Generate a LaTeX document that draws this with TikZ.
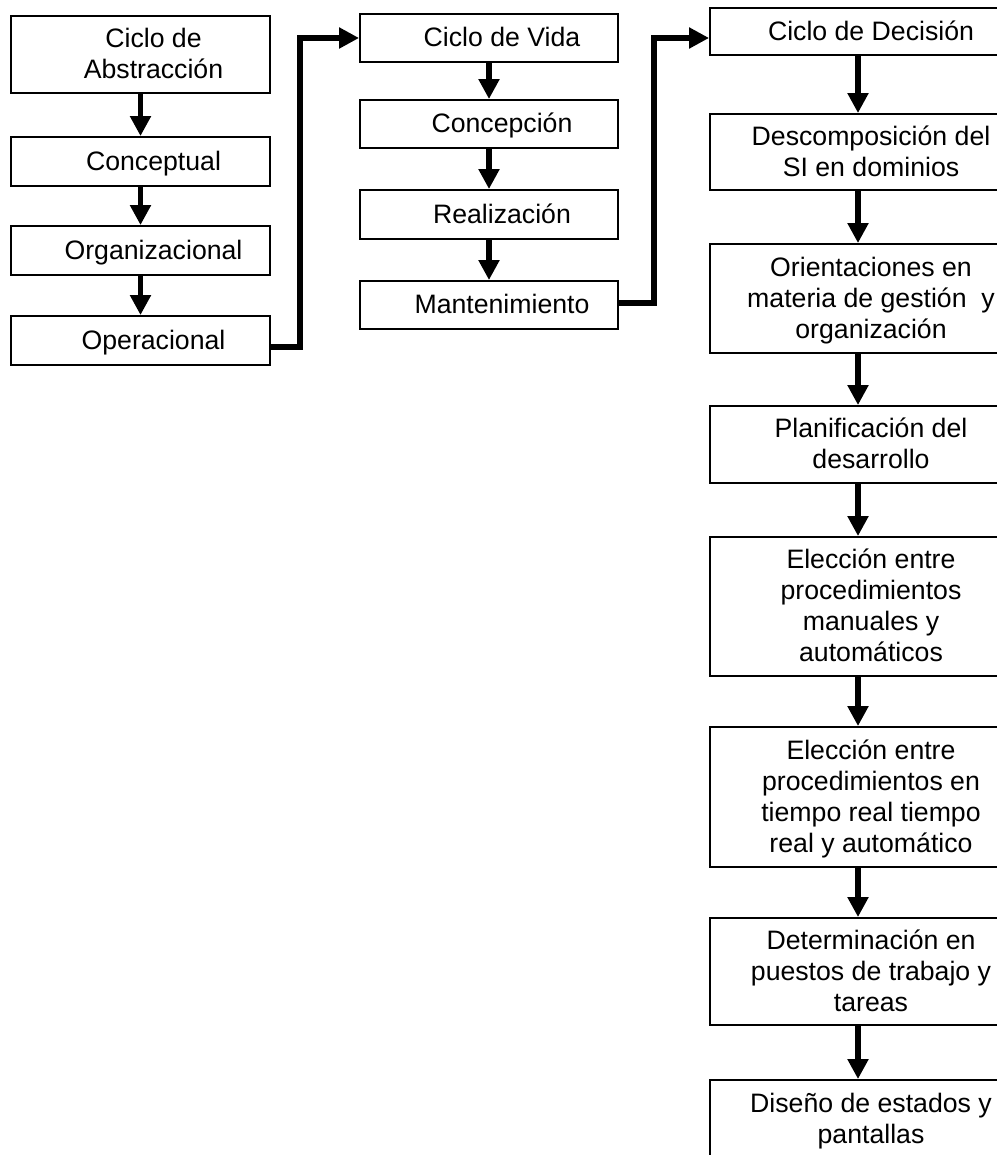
\documentclass[tikz,border=0pt]{standalone}
\usepackage{fontspec}
\setmainfont{Liberation Sans}
\usetikzlibrary{arrows.meta}
\newcommand{\boxtext}[1]{\hspace*{19.5pt}\raisebox{-2pt}[\height][\depth]{\begin{tabular}{@{}c@{}}#1\end{tabular}}}
\begin{document}
\begin{tikzpicture}[x=0.75pt,y=-0.75pt,
  box/.style={draw, line width=1.4pt, rectangle, inner sep=0pt, font=\fontsize{20}{23.25}\selectfont},
  lbox/.style={box, minimum width=194.25pt},
  mbox/.style={box, minimum width=193.5pt},
  rbox/.style={box, minimum width=222pt},
  arr/.style={line width=3.9pt, -{Triangle[width=15pt,length=15pt]}},
  conn/.style={arr, line join=miter}]
\useasboundingbox (0,0) rectangle (996,1155);

% left column
\node[lbox, minimum height=57.75pt] (abs) at (140.5,54.5) {\boxtext{Ciclo de\\Abstracción}};
\node[lbox, minimum height=36.75pt] (con) at (140.5,161.5) {\boxtext{Conceptual}};
\node[lbox, minimum height=36.75pt] (org) at (140.5,250.5) {\boxtext{Organizacional}};
\node[lbox, minimum height=36.75pt] (ope) at (140.5,340.5) {\boxtext{Operacional}};

% middle column
\node[mbox, minimum height=36pt] (cv) at (489,38) {\boxtext{Ciclo de Vida}};
\node[mbox, minimum height=36pt] (cp) at (489,124) {\boxtext{Concepción}};
\node[mbox, minimum height=36.75pt] (re) at (489,214.5) {\boxtext{Realización}};
\node[mbox, minimum height=36pt] (mt) at (489,305) {\boxtext{Mantenimiento}};

% right column
\node[rbox, minimum height=35.25pt] (cd) at (858,31.5) {\boxtext{Ciclo de Decisión}};
\node[rbox, minimum height=57pt] (ds) at (858,152) {\boxtext{Descomposición del\\SI en dominios}};
\node[rbox, minimum height=81.75pt] (ori) at (858,298.5) {\boxtext{Orientaciones en\\materia de gestión\ \ y\\organización}};
\node[rbox, minimum height=57.75pt] (pl) at (858,444.5) {\boxtext{Planificación del\\desarrollo}};
\node[rbox, minimum height=104.25pt] (ea) at (858,606.5) {\boxtext{Elección entre\\procedimientos\\manuales y\\automáticos}};
\node[rbox, minimum height=105pt] (eb) at (858,797) {\boxtext{Elección entre\\procedimientos en\\tiempo real tiempo\\real y automático}};
\node[rbox, minimum height=80.25pt] (dt) at (858,971.5) {\boxtext{Determinación en\\puestos de trabajo y\\tareas}};
\node[rbox, minimum height=58.5pt] (di) at (858,1119) {\boxtext{Diseño de estados y\\pantallas}};

% vertical arrows
\draw[arr] (abs.south) -- (con.north);
\draw[arr] (con.south) -- (org.north);
\draw[arr] (org.south) -- (ope.north);
\draw[arr] (cv.south) -- (cp.north);
\draw[arr] (cp.south) -- (re.north);
\draw[arr] (re.south) -- (mt.north);
\draw[arr] (cd.south) -- (ds.north);
\draw[arr] (ds.south) -- (ori.north);
\draw[arr] (ori.south) -- (pl.north);
\draw[arr] (pl.south) -- (ea.north);
\draw[arr] (ea.south) -- (eb.north);
\draw[arr] (eb.south) -- (dt.north);
\draw[arr] (dt.south) -- (di.north);

% connectors between columns
\draw[conn] ([yshift=-4.875pt]ope.east) -- ++(29,0) |- (cv.west);
\draw[conn] ([yshift=1.5pt]mt.east) -- ++(35,0) |- ([yshift=-4.875pt]cd.west);
\end{tikzpicture}
\end{document}
